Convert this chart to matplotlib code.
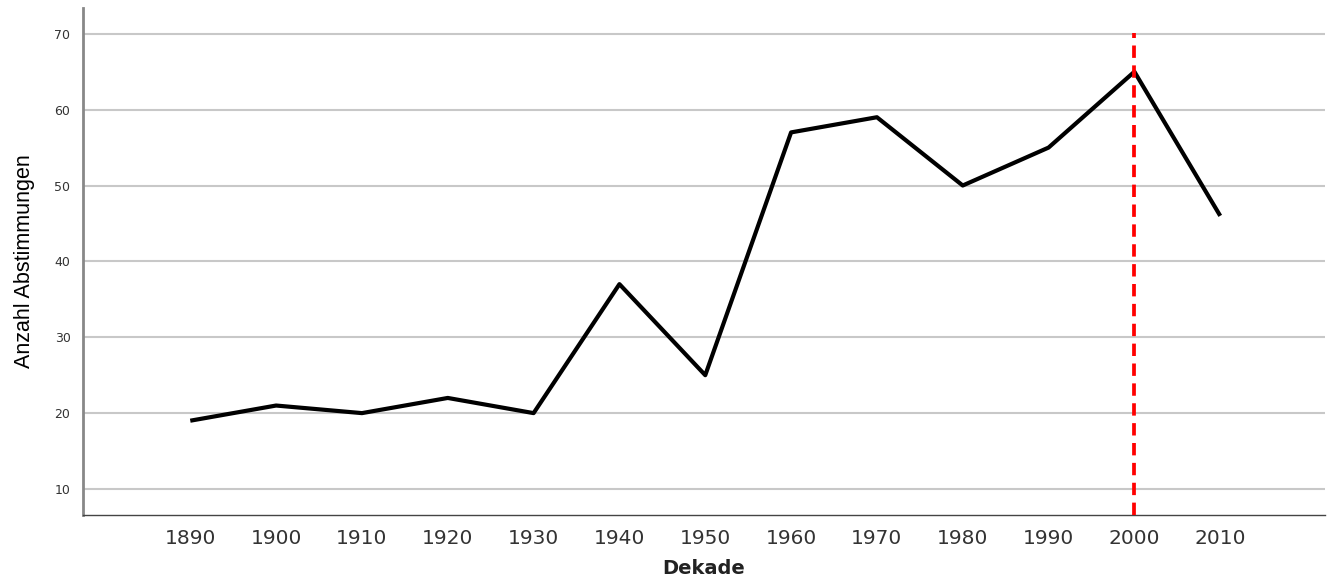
import numpy as np
import matplotlib.pyplot as plt

# Abstimmungen pro Dekade
dekaden = [1890, 1900, 1910, 1920, 1930, 1940, 1950, 1960, 1970, 1980, 1990, 2000, 2010]
anzahl = [19, 21, 20, 22, 20, 37, 25, 57, 59, 50, 55, 65, 46]
markierung = 2000
y_ticks = [10, 20, 30, 40, 50, 60, 70]

fig = plt.figure(figsize=(13.3, 5.82), dpi=100)
ax = fig.add_axes([0.0624, 0.1151, 0.9338, 0.8712])

ax.set_xlim(1877.5, 2022.2)
ax.set_ylim(6.57, 73.4)

for y in y_ticks:
    ax.axhline(y, color='#c8c8c8', lw=1.5, zorder=1)

ax.plot(dekaden, anzahl, color='black', lw=3.0, zorder=3, solid_capstyle='butt')
ax.vlines(markierung, 6.57, 70.1, colors='#ff0000', linestyles=(0, (3.3, 2.0)), lw=2.7, zorder=4)

ax.set_xticks(dekaden)
ax.set_xticklabels([str(d) for d in dekaden], fontsize=14.5, color='#333333')
ax.set_yticks(y_ticks)
ax.set_yticklabels([str(y) for y in y_ticks], fontsize=9, color='#333333')
ax.tick_params(length=0)
ax.tick_params(axis='x', pad=10)
ax.tick_params(axis='y', pad=9)

for s in ['top', 'right']:
    ax.spines[s].set_visible(False)
ax.spines['left'].set_color('#888888')
ax.spines['left'].set_linewidth(2)
ax.spines['bottom'].set_color('#444444')
ax.spines['bottom'].set_linewidth(1)

ax.set_xlabel('Dekade', fontsize=14, fontweight='bold', color='#222222', labelpad=8)
ax.set_ylabel('Anzahl Abstimmungen', fontsize=15.5, family=['Liberation Sans', 'DejaVu Sans'],
              color='black', labelpad=14)

fig.savefig('out.png', dpi=100)
